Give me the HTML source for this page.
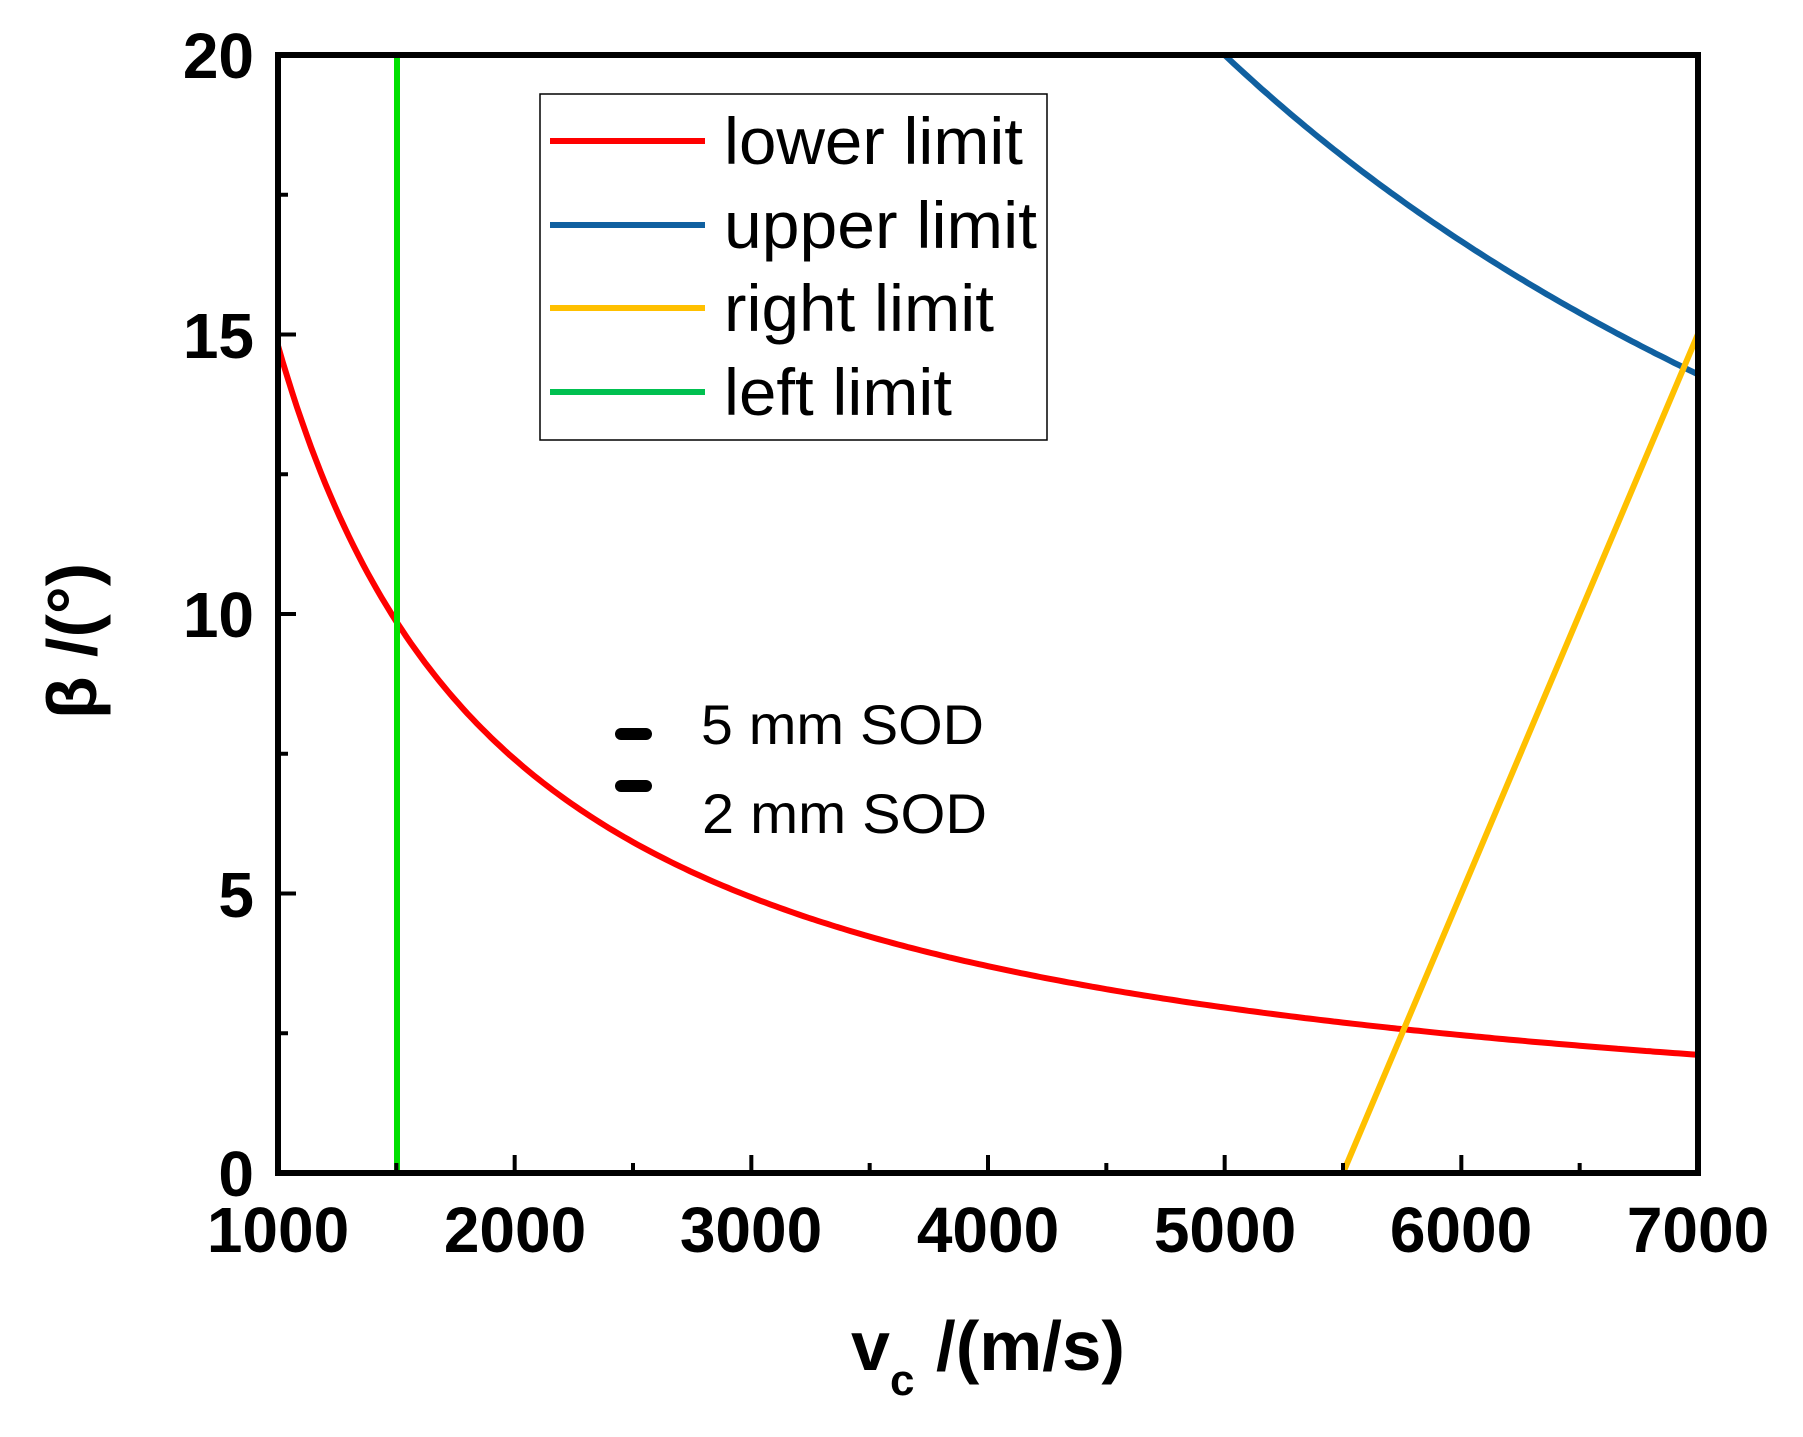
<!DOCTYPE html>
<html><head><meta charset="utf-8"><style>body{margin:0;background:#fff}</style></head><body>
<svg width="1803" height="1432" viewBox="0 0 1803 1432" xmlns="http://www.w3.org/2000/svg" font-family="Liberation Sans, Arial, sans-serif">
<rect width="1803" height="1432" fill="#fff"/>
<defs><clipPath id="c"><rect x="278" y="55" width="1420" height="1118"/></clipPath></defs>
<g clip-path="url(#c)" fill="none" stroke-width="6">
<path id="red" stroke="#ff0000" d=""/>
<path id="blue" stroke="#1060a0" d=""/>
<line x1="1343" y1="1173" x2="1698" y2="334" stroke="#ffc000"/>
<line x1="397" y1="55" x2="397" y2="1173" stroke="#00e000"/>
</g>
<g stroke="#000" stroke-width="4" id="ticks"></g>
<rect x="278" y="55" width="1420" height="1118" fill="none" stroke="#000" stroke-width="6"/>
<g font-size="64" font-weight="bold" text-anchor="middle">
<text x="278" y="1252">1000</text><text x="515" y="1252">2000</text><text x="751" y="1252">3000</text><text x="988" y="1252">4000</text><text x="1225" y="1252">5000</text><text x="1461" y="1252">6000</text><text x="1698" y="1252">7000</text>
</g>
<g font-size="64" font-weight="bold" text-anchor="end">
<text x="254" y="1196">0</text><text x="254" y="917">5</text><text x="254" y="637">10</text><text x="254" y="358">15</text><text x="254" y="78">20</text>
</g>
<text transform="translate(96,641) rotate(-90)" font-size="70" font-weight="bold" text-anchor="middle">β /(°)</text>
<text x="851" y="1370" font-size="70" font-weight="bold">v</text>
<text x="890" y="1395" font-size="44" font-weight="bold">c</text>
<text x="936" y="1370" font-size="70" font-weight="bold" textLength="189" lengthAdjust="spacingAndGlyphs">/(m/s)</text>
<rect x="540" y="94" width="507" height="346" fill="#fff" stroke="#000" stroke-width="1.5"/>
<g stroke-width="6">
<line x1="550" y1="141" x2="705" y2="141" stroke="#ff0000"/>
<line x1="550" y1="225" x2="705" y2="225" stroke="#1060a0"/>
<line x1="550" y1="308" x2="705" y2="308" stroke="#ffc000"/>
<line x1="550" y1="392" x2="705" y2="392" stroke="#00c050"/>
</g>
<g font-size="66">
<text x="724" y="164" textLength="299" lengthAdjust="spacingAndGlyphs">lower limit</text>
<text x="724" y="248" textLength="313" lengthAdjust="spacingAndGlyphs">upper limit</text>
<text x="724" y="331" textLength="270" lengthAdjust="spacingAndGlyphs">right limit</text>
<text x="724" y="415" textLength="228" lengthAdjust="spacingAndGlyphs">left limit</text>
</g>
<line x1="621" y1="734" x2="646" y2="734" stroke="#000" stroke-width="12" stroke-linecap="round"/>
<line x1="621" y1="786" x2="646" y2="786" stroke="#000" stroke-width="12" stroke-linecap="round"/>
<text x="701" y="744" font-size="56" textLength="283" lengthAdjust="spacingAndGlyphs">5 mm SOD</text>
<text x="702" y="833" font-size="56" textLength="285" lengthAdjust="spacingAndGlyphs">2 mm SOD</text>
<script>
function X(v){return 278+(v-1000)*1420/6000}
function Y(b){return 1173-b*1118/20}
let r="",u="";
for(let v=1000;v<=7000;v+=20){r+=(v==1000?"M":"L")+X(v).toFixed(1)+" "+Y(14800/v).toFixed(1);}
for(let v=4900;v<=7000;v+=20){u+=(v==4900?"M":"L")+X(v).toFixed(1)+" "+Y(100000/v).toFixed(1);}
document.getElementById("red").setAttribute("d",r);
document.getElementById("blue").setAttribute("d",u);
const g=document.getElementById("ticks"),NS="http://www.w3.org/2000/svg";
function ln(a,b,c,d){const l=document.createElementNS(NS,"line");l.setAttribute("x1",a);l.setAttribute("y1",b);l.setAttribute("x2",c);l.setAttribute("y2",d);g.appendChild(l);}
for(let i=0;i<=12;i++){let x=X(1000+i*500),L=i%2?10:18;ln(x,1173,x,1173-L);}
for(let i=0;i<=8;i++){let y=Y(i*2.5),L=i%2?10:18;ln(278,y,278+L,y);}
</script>
</svg>
</body></html>
